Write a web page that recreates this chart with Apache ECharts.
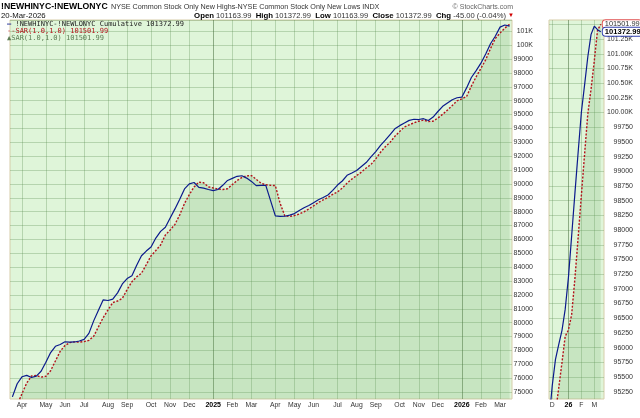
<!DOCTYPE html>
<html><head><meta charset="utf-8">
<script src="https://cdn.jsdelivr.net/npm/echarts@6/dist/echarts.min.js"></script>
<style>html,body{margin:0;padding:0;background:#fff;}#c{width:640px;height:418px;}</style>
</head><body><div id="c"></div>
<script>
// ---- data ----
const weekStart = '2024-03-18';   // Monday of first weekly bar (main panel)
const cumValues = [74650,75600,76100,76200,76050,76150,76500,77150,77850,78300,
  78430,78620,78600,78610,78680,78800,79230,80130,80900,81650,
  81600,81700,82150,82790,83180,83390,84140,84820,85160,85450,
  86100,86580,86880,87540,88200,88900,89640,90000,90100,89750,
  89700,89600,89520,89600,89900,90250,90400,90550,90590,90420,
  90180,89880,89900,89900,88800,87700,87660,87670,87750,87860,
  88080,88280,88440,88650,88860,89020,89200,89540,89920,90210,
  90620,90790,90970,91260,91540,91950,92330,92780,93150,93560,
  93970,94200,94390,94580,94660,94640,94700,94570,94820,95220,
  95590,95830,96070,96210,96250,96920,97670,98170,98700,99360,
  100100,100640,101300,101450,101372.99];
const sarValues = [73300,74080,74880,75650,76160,76190,76080,76130,76540,77240,
  77940,78360,78560,78620,78600,78640,78730,79020,79700,80370,
  80920,81450,81560,81750,82390,82950,83310,83560,84180,84820,
  85200,85600,86320,86680,87080,87770,88590,89230,89780,90130,
  90080,89790,89710,89630,89600,89650,89950,90250,90460,90580,
  90600,90330,90050,89940,89900,89880,88600,87690,87660,87720,
  87830,87990,88190,88420,88660,88850,89020,89250,89420,89700,
  90050,90350,90600,90850,91150,91400,91800,92280,92680,93000,
  93430,93780,94100,94260,94400,94520,94600,94500,94520,94750,
  95020,95320,95650,95990,96130,96300,97050,97720,98330,98950,
  99750,100480,100870,101230,101501.99];
const insetStart = '2025-11-24';  // first weekly bar of the zoomed panel
const insetWeeksCount = 18;       // one empty week of right padding
const insetCum = [94750,95350,95800,96050,96290,96650,97190,97900,98620,99320,
  100000,100470,100950,101330,101470,101410,101372.99];
const insetSar = [94020,94450,94890,95310,95740,96190,96300,96560,97170,97870,
  98590,99290,99980,100400,100880,101400,101501.99];
const monthAbbr = ['Jan','Feb','Mar','Apr','May','Jun','Jul','Aug','Sep','Oct','Nov','Dec'];
const monthLetter = ['J','F','M','A','M','J','J','A','S','O','N','D'];
const symbolText = '!NEWHINYC-!NEWLONYC';
const descText = 'NYSE Common Stock Only New Highs-NYSE Common Stock Only New Lows INDX';
const dateText = '20-Mar-2026';
const quote = {Open:'101163.99', High:'101372.99', Low:'101163.99', Close:'101372.99', Chg:'-45.00 (-0.04%)'};

// ---- helpers ----
function weeks(start, n){
  const out=[]; const t0=Date.parse(start+'T00:00:00Z');
  for(let i=0;i<n;i++){ out.push(new Date(t0+i*7*864e5).toISOString().slice(0,10)); }
  return out;
}
const mainWeeks = weeks(weekStart, cumValues.length);
const insetWeeks = weeks(insetStart, insetWeeksCount);
const isMS = (cats,i) => i>0 && cats[i].slice(5,7)!==cats[i-1].slice(5,7);
const SANS = "'Liberation Sans', Arial, sans-serif";
const BG = '#dff5d9';
const GRID = 'rgba(85,135,75,0.30)';
const GRID_DARK = 'rgba(60,100,50,0.50)';
const FILL = 'rgba(115,170,105,0.30)';
const BLUE = '#0b1a8c';
const RED = '#b3121b';
const last = a => a[a.length-1];

const mainMonthLines = [];
mainWeeks.forEach((d,i)=>{ if(isMS(mainWeeks,i)) mainMonthLines.push({xAxis:d, lineStyle:{color: d.slice(5,7)==='01'?GRID_DARK:GRID}}); });

const chart = echarts.init(document.getElementById('c'), null, {renderer:'canvas'});
chart.setOption({
  animation:false,
  backgroundColor:'#fff',
  textStyle:{fontFamily:SANS},
  title:[
    {text:symbolText, left:1, top:1.5, padding:0, textStyle:{fontFamily:SANS, fontSize:8.7, fontWeight:'bold', color:'#000', lineHeight:10}},
    {text:descText, left:111, top:2.5, padding:0, textStyle:{fontFamily:SANS, fontSize:7.2, fontWeight:'normal', color:'#333', lineHeight:9}},
    {text:'© StockCharts.com', right:127, top:2.5, padding:0, textStyle:{fontFamily:SANS, fontSize:7, fontWeight:'normal', color:'#666', lineHeight:9}},
    {text:dateText, left:1, top:11, padding:0, textStyle:{fontFamily:SANS, fontSize:7.8, fontWeight:'normal', color:'#111', lineHeight:9}},
    {text:Object.keys(quote).map(k=>'{b|'+k+'} '+quote[k]).join('  ')+' {r|▼}', right:126, top:11, padding:0,
     textStyle:{fontFamily:SANS, fontSize:7.6, fontWeight:'normal', color:'#333', lineHeight:9,
       rich:{b:{fontFamily:SANS, fontSize:7.8, fontWeight:'bold', color:'#000'}, r:{fontSize:6, color:'#d00000'}}}}
  ],
  legend:{
    orient:'vertical', left:1, top:20.5, padding:0, itemGap:0, itemWidth:1, itemHeight:7, icon:'none',
    selectedMode:false,
    data:[{name:'cum', textStyle:{color:'#222'}}, {name:'sar', textStyle:{color:RED}}, {name:'sarArea', textStyle:{color:'#5d7d55'}}],
    formatter:n=> n==='cum' ? '{cb|—} '+symbolText+' Cumulative '+last(cumValues).toFixed(2)
              : n==='sar' ? '--SAR(1.0,1.0) '+last(sarValues).toFixed(2)
              : '▲SAR(1.0,1.0) '+last(sarValues).toFixed(2),
    textStyle:{fontFamily:"'DejaVu Sans Mono', monospace", fontSize:7, lineHeight:7,
      rich:{cb:{color:BLUE, fontFamily:"'DejaVu Sans Mono', monospace", fontSize:7, fontWeight:'bold'}}}
  },
  grid:[
    {left:10, top:20, width:502, height:379, show:true, backgroundColor:BG, borderColor:'#d6cda9', borderWidth:1},
    {left:549, top:20, width:55, height:379, show:true, backgroundColor:BG, borderColor:'#d6cda9', borderWidth:1}
  ],
  xAxis:[
    {gridIndex:0, type:'category', data:mainWeeks, boundaryGap:true,
     axisLine:{show:false}, axisTick:{show:false}, splitLine:{show:false},
     axisLabel:{interval:(i)=>isMS(mainWeeks,i), margin:3, fontSize:6.8, color:'#333', fontFamily:SANS,
       formatter:(v)=>{const m=+v.slice(5,7)-1; return m===0?'{y|'+v.slice(0,4)+'}':monthAbbr[m];},
       rich:{y:{fontFamily:SANS, fontSize:7, fontWeight:'bold', color:'#000'}}}},
    {gridIndex:1, type:'category', data:insetWeeks, boundaryGap:false,
     axisLine:{show:false}, axisTick:{show:false},
     splitLine:{show:true, interval:(i)=>isMS(insetWeeks,i), lineStyle:{color:[GRID,GRID_DARK,GRID,GRID], width:1}},
     axisLabel:{interval:(i)=>isMS(insetWeeks,i), margin:3, fontSize:6.8, color:'#333', fontFamily:SANS,
       formatter:(v)=>{const m=+v.slice(5,7)-1; return m===0?'{y|'+v.slice(2,4)+'}':monthLetter[m];},
       rich:{y:{fontFamily:SANS, fontSize:7, fontWeight:'bold', color:'#000'}}}}
  ],
  yAxis:[
    {gridIndex:0, type:'value', position:'right', min:74500, max:101813, interval:500,
     axisLine:{show:false}, axisTick:{show:false},
     splitLine:{show:true, lineStyle:{color:['rgba(0,0,0,0)',GRID], width:1}},
     axisLabel:{align:'right', margin:21, fontSize:7, color:'#333', fontFamily:SANS,
       formatter:v=> (v%1000===0 ? (v>=100000 ? (v/1000)+'K' : String(v)) : '')}},
    {gridIndex:1, type:'value', position:'right', min:95125, max:101575, interval:125,
     axisLine:{show:false}, axisTick:{show:false},
     splitLine:{show:true, lineStyle:{color:['rgba(0,0,0,0)',GRID], width:1}},
     axisLabel:{align:'right', margin:29, fontSize:7, color:'#333', fontFamily:SANS,
       formatter:v=> (v%250===0 && v<=101250 ? (v>=100000 ? (v/1000).toFixed(2)+'K' : String(v)) : '')}}
  ],
  series:[
    {name:'sarArea', type:'line', xAxisIndex:0, yAxisIndex:0, data:sarValues, symbol:'none', z:2,
     lineStyle:{width:0, opacity:0}, areaStyle:{color:FILL, origin:'start'}, emphasis:{disabled:true},
     markLine:{silent:true, z:1, symbol:['none','none'], label:{show:false}, animation:false,
       lineStyle:{type:'solid', width:1}, emphasis:{disabled:true}, data:mainMonthLines}},
    {name:'sar', type:'line', xAxisIndex:0, yAxisIndex:0, data:sarValues, symbol:'none', z:3,
     lineStyle:{color:RED, width:1.4, type:[2,1.6]}, emphasis:{disabled:true}},
    {name:'cum', type:'line', xAxisIndex:0, yAxisIndex:0, data:cumValues, symbol:'none', z:4,
     lineStyle:{color:BLUE, width:1.2}, emphasis:{disabled:true}},
    {name:'insetSarArea', type:'line', xAxisIndex:1, yAxisIndex:1, data:insetSar, symbol:'none', z:2,
     lineStyle:{width:0, opacity:0}, areaStyle:{color:FILL, origin:'start'}, emphasis:{disabled:true}},
    {name:'insetSar', type:'line', xAxisIndex:1, yAxisIndex:1, data:insetSar, symbol:'none', z:3,
     lineStyle:{color:RED, width:1.4, type:[2,1.6]}, emphasis:{disabled:true},
     endLabel:{show:true, distance:2, formatter:()=>last(insetSar).toFixed(2), fontFamily:SANS, fontSize:7.4,
       color:'#333', backgroundColor:'#fff', borderColor:'#e05050', borderWidth:1, borderRadius:3, padding:[0,2,0,2], lineHeight:8}},
    {name:'insetCum', type:'line', xAxisIndex:1, yAxisIndex:1, data:insetCum, symbol:'none', z:4,
     lineStyle:{color:BLUE, width:1.2}, emphasis:{disabled:true},
     endLabel:{show:true, distance:2, formatter:()=>last(insetCum).toFixed(2), fontFamily:SANS, fontSize:7.6, fontWeight:'bold',
       color:'#000', backgroundColor:'#fff', borderColor:'#3040b0', borderWidth:1, borderRadius:3, padding:[0,2,0,2], lineHeight:8}}
  ]
});
</script></body></html>
